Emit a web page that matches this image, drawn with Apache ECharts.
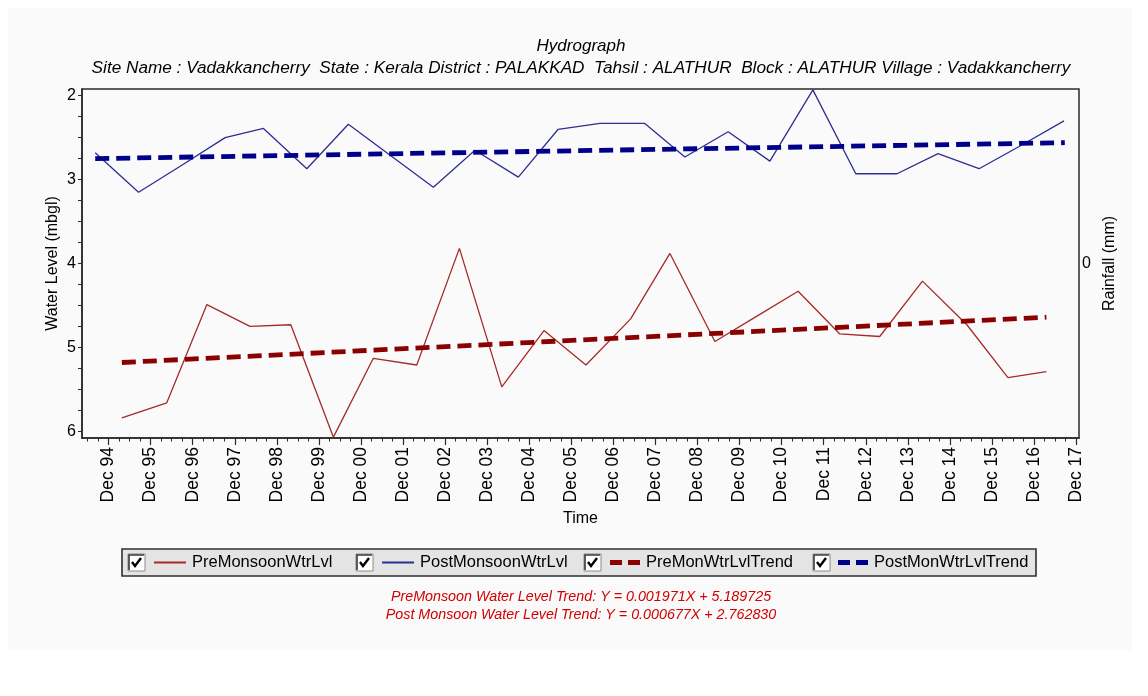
<!DOCTYPE html>
<html>
<head>
<meta charset="utf-8">
<script src="https://cdn.jsdelivr.net/npm/echarts@6/dist/echarts.min.js"></script>
<style>
  html, body { margin: 0; padding: 0; background: #ffffff; }
  #chart { width: 1148px; height: 696px; }
</style>
</head>
<body>
<div id="chart"></div>
<script>
// Time-axis tick labels (one per December)
const xTickLabels = ['Dec 94', 'Dec 95', 'Dec 96', 'Dec 97', 'Dec 98', 'Dec 99', 'Dec 00', 'Dec 01',
  'Dec 02', 'Dec 03', 'Dec 04', 'Dec 05', 'Dec 06', 'Dec 07', 'Dec 08', 'Dec 09', 'Dec 10', 'Dec 11',
  'Dec 12', 'Dec 13', 'Dec 14', 'Dec 15', 'Dec 16', 'Dec 17'];

// Water level axis (mbgl, depth increases downward)
const levelTicks = [2, 3, 4, 5, 6];
const rainfallTicks = [0];

// Pre-monsoon water level readings
const preDates = ['1995-03-26', '1996-04-19', '1997-04-03', '1998-04-12', '1999-04-01', '2000-04-05',
  '2001-03-18', '2002-03-30', '2003-04-04', '2004-04-06', '2005-04-08', '2006-04-07', '2007-04-30',
  '2008-04-05', '2009-05-01', '2010-04-27', '2011-04-23', '2012-04-19', '2013-04-01', '2014-04-07',
  '2015-04-27', '2016-04-18', '2017-03-18'];
const preLevels = [5.84, 5.66, 4.49, 4.75, 4.73, 6.07, 5.13, 5.21, 3.82, 5.47, 4.80, 5.21, 4.66,
  3.88, 4.93, 4.63, 4.33, 4.84, 4.87, 4.21, 4.73, 5.36, 5.29];

// Post-monsoon water level readings
const postDates = ['1994-08-07', '1995-08-18', '1996-08-14', '1997-09-08', '1998-08-07', '1999-08-18',
  '2000-08-13', '2001-08-11', '2002-08-21', '2003-08-17', '2004-08-28', '2005-08-09', '2006-08-06',
  '2007-08-31', '2008-08-13', '2009-08-24', '2010-08-21', '2011-08-29', '2012-09-05', '2013-08-29',
  '2014-08-20', '2015-08-11', '2016-08-13', '2017-08-18'];
const postLevels = [2.68, 3.15, 2.84, 2.50, 2.39, 2.87, 2.34, 2.71, 3.09, 2.65, 2.97, 2.40, 2.33,
  2.33, 2.73, 2.43, 2.78, 1.93, 2.93, 2.93, 2.69, 2.87, 2.59, 2.30];

// Trend line end points
const preTrendDates = ['1995-03-26', '2017-03-18'];
const preTrendLevels = [5.18, 4.64];
const postTrendDates = ['1994-08-07', '2017-08-25'];
const postTrendLevels = [2.75, 2.56];

const seriesNames = ['PreMonsoonWtrLvl', 'PostMonsoonWtrLvl', 'PreMonWtrLvlTrend', 'PostMonWtrLvlTrend'];
const trendNotes = [
  'PreMonsoon Water Level Trend: Y = 0.001971X + 5.189725',
  'Post Monsoon Water Level Trend: Y = 0.000677X + 2.762830'
];
const titleText = 'Hydrograph';
const subtitleText = 'Site Name : Vadakkancherry  State : Kerala District : PALAKKAD  Tahsil : ALATHUR  Block : ALATHUR Village : Vadakkancherry';

// ---- helpers ----
function decYear(s) {
  const d = Date.parse(s + 'T00:00:00Z');
  const y = new Date(d).getUTCFullYear();
  const a = Date.UTC(y, 0, 1), b = Date.UTC(y + 1, 0, 1);
  return y + (d - a) / (b - a);
}
function labelToDate(lbl) {
  const yy = parseInt(lbl.slice(4), 10);
  const y = yy > 50 ? 1900 + yy : 2000 + yy;
  return y + '-12-01';
}
const pairs = (dates, vals) => dates.map((d, i) => [decYear(d), vals[i]]);

const majorTicks = xTickLabels.map(l => decYear(labelToDate(l)));
const X_MIN = 1994.283, X_MAX = 2017.984;
const minorTicks = [];
for (let y = 1994; y <= 2017; y++) {
  ['-03-01', '-06-01', '-09-01'].forEach(m => {
    const v = decYear(y + m);
    if (v > X_MIN && v < X_MAX) minorTicks.push(v);
  });
}
const levelMinor = [];
for (let v = 2; v <= 6.0001; v += 0.25) levelMinor.push(+v.toFixed(2));

const FONT = '"Liberation Sans", Arial, sans-serif';
const colors = ['#A52A2A', '#2E2E90', '#8B0000', '#00008B'];

const chart = echarts.init(document.getElementById('chart'));

// Windows-style ticked checkbox drawn in front of each legend entry
function checkbox(x, y) {
  return [
    { type: 'rect', z: 20, silent: true, shape: { x: x, y: y, width: 17, height: 17 },
      style: { fill: '#ffffff', stroke: '#8a8a8a', lineWidth: 1 } },
    { type: 'polyline', z: 21, silent: true, shape: { points: [[x + 1, y + 16], [x + 1, y + 1], [x + 16, y + 1]] },
      style: { stroke: '#3a3a3a', lineWidth: 1.6, fill: null } },
    { type: 'polyline', z: 22, silent: true, shape: { points: [[x + 4, y + 8], [x + 7, y + 12], [x + 13, y + 4]] },
      style: { stroke: '#000000', lineWidth: 2.4, fill: null } }
  ];
}

const legendLefts = [154, 382, 610, 838];
const legends = seriesNames.map((n, i) => ({
  data: [n],
  left: legendLefts[i],
  top: 554,
  padding: 0,
  itemGap: 0,
  itemWidth: i < 2 ? 32 : 30,
  itemHeight: i < 2 ? 2 : 5,
  icon: i < 2 ? 'rect' : 'path://M0,0H12V5H0Z M18,0H30V5H18Z',
  selectedMode: false,
  z: 10,
  textStyle: { fontFamily: FONT, fontSize: 16.5, color: '#000', padding: [0, 0, 0, 1] }
}));

const option = {
  backgroundColor: '#ffffff',
  animation: false,
  title: [
    { text: titleText, left: 581, textAlign: 'center', top: 38, padding: 0,
      textStyle: { fontFamily: FONT, fontSize: 17, fontStyle: 'italic', fontWeight: 'normal', color: '#000' } },
    { text: subtitleText, left: 581, textAlign: 'center', top: 60, padding: 0,
      textStyle: { fontFamily: FONT, fontSize: 17.2, fontStyle: 'italic', fontWeight: 'normal', color: '#000' } }
  ],
  legend: legends,
  grid: {
    left: 82, right: 69, top: 89, bottom: 258,
    show: true, borderColor: '#2a2a2a', borderWidth: 1.5, backgroundColor: 'transparent'
  },
  xAxis: [
    {
      type: 'value', min: X_MIN, max: X_MAX, position: 'bottom',
      name: 'Time', nameLocation: 'middle', nameGap: 72,
      nameTextStyle: { fontFamily: FONT, fontSize: 16, color: '#000' },
      axisLine: { show: true, onZero: false, lineStyle: { color: '#2a2a2a', width: 1.5 } },
      axisTick: { show: true, customValues: majorTicks, length: 7, lineStyle: { color: '#2a2a2a', width: 1.2 } },
      axisLabel: {
        show: true, customValues: majorTicks, rotate: 90, margin: 9,
        fontFamily: FONT, fontSize: 17.5, color: '#000',
        formatter: v => {
          let best = 0, dist = Infinity;
          majorTicks.forEach((t, i) => { const d = Math.abs(t - v); if (d < dist) { dist = d; best = i; } });
          return xTickLabels[best];
        }
      },
      splitLine: { show: false }
    },
    {
      type: 'value', min: X_MIN, max: X_MAX, position: 'bottom', gridIndex: 0,
      axisLine: { show: false, onZero: false },
      axisTick: { show: true, customValues: minorTicks, length: 3.5, lineStyle: { color: '#2a2a2a', width: 1 } },
      axisLabel: { show: false },
      splitLine: { show: false }
    }
  ],
  yAxis: [
    {
      type: 'value', inverse: true, min: 1.92, max: 6.08, position: 'left',
      name: 'Water Level (mbgl)', nameLocation: 'middle', nameGap: 21, nameRotate: 90,
      nameMoveOverlap: false,
      nameTextStyle: { fontFamily: FONT, fontSize: 16, color: '#000' },
      axisLine: { show: true, onZero: false, lineStyle: { color: '#2a2a2a', width: 1.5 } },
      axisTick: { show: true, customValues: levelMinor, length: 4, lineStyle: { color: '#2a2a2a', width: 1 } },
      axisLabel: { show: true, customValues: levelTicks, margin: 6, fontFamily: FONT, fontSize: 16, color: '#000' },
      splitLine: { show: false }
    },
    {
      type: 'value', min: -1, max: 1, position: 'right',
      name: 'Rainfall (mm)', nameLocation: 'middle', nameGap: 20, nameRotate: 90,
      nameTextStyle: { fontFamily: FONT, fontSize: 16, color: '#000' },
      axisLine: { show: false, onZero: false },
      axisTick: { show: false },
      axisLabel: { show: true, customValues: rainfallTicks, margin: 3, fontFamily: FONT, fontSize: 16, color: '#000' },
      splitLine: { show: false }
    }
  ],
  series: [
    { name: seriesNames[0], type: 'line', data: pairs(preDates, preLevels), color: colors[0],
      showSymbol: false, symbol: 'none', lineStyle: { width: 1.3, color: colors[0] }, z: 2 },
    { name: seriesNames[1], type: 'line', data: pairs(postDates, postLevels), color: colors[1],
      showSymbol: false, symbol: 'none', lineStyle: { width: 1.3, color: colors[1] }, z: 2 },
    { name: seriesNames[2], type: 'line', data: pairs(preTrendDates, preTrendLevels), color: colors[2],
      showSymbol: false, symbol: 'none', lineStyle: { width: 4.8, color: colors[2], type: [14, 7] }, z: 3 },
    { name: seriesNames[3], type: 'line', data: pairs(postTrendDates, postTrendLevels), color: colors[3],
      showSymbol: false, symbol: 'none', lineStyle: { width: 4.8, color: colors[3], type: [14, 7] }, z: 3 }
  ],
  graphic: [
    { type: 'rect', z: -10, silent: true, shape: { x: 8, y: 8, width: 1124, height: 642 },
      style: { fill: '#fafafa', stroke: null } },
    { type: 'rect', z: 1, silent: true, shape: { x: 122, y: 549, width: 914, height: 27 },
      style: { fill: '#e4e4e4', stroke: '#2f2f2f', lineWidth: 1.6 } },
    ...checkbox(128, 554), ...checkbox(356, 554), ...checkbox(584, 554), ...checkbox(813, 554),
    { type: 'text', z: 5, x: 581, y: 597,
      style: { text: trendNotes[0], textAlign: 'center', textVerticalAlign: 'middle',
        font: 'italic 14.3px ' + FONT, fill: '#d20000' } },
    { type: 'text', z: 5, x: 581, y: 615,
      style: { text: trendNotes[1], textAlign: 'center', textVerticalAlign: 'middle',
        font: 'italic 14.3px ' + FONT, fill: '#d20000' } }
  ]
};

chart.setOption(option);
</script>
</body>
</html>
